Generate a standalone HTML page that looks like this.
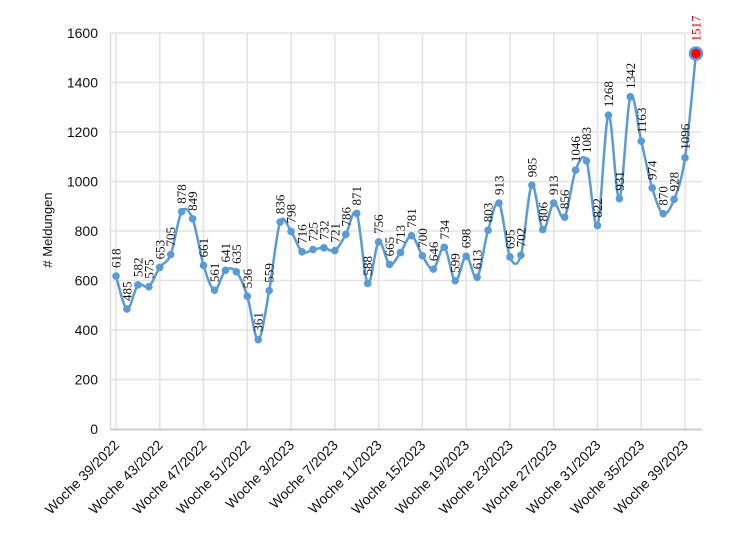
<!DOCTYPE html>
<html><head><meta charset="utf-8"><style>
html,body{margin:0;padding:0;background:#fff;}
svg{display:block;}
.yl{font:14px "Liberation Sans",sans-serif;fill:#111;text-anchor:end;}
.xl{font:14px "Liberation Sans",sans-serif;fill:#111;text-anchor:end;}
.dl{font:13px "Liberation Serif",serif;fill:#111;}
</style></head><body>
<svg id="s" width="750" height="533" viewBox="0 0 750 533" xmlns="http://www.w3.org/2000/svg">
<g id="grid" stroke="#e3e3e3" stroke-width="1.5"></g>
<line x1="110" y1="429.5" x2="702" y2="429.5" stroke="#ccc" stroke-width="2"/>
<line x1="110.5" y1="33" x2="110.5" y2="430" stroke="#ddd" stroke-width="1.5"/>
<g id="yl"></g>
<text transform="rotate(-90 52 230)" x="52" y="230" text-anchor="middle" style="font:13px 'Liberation Sans',sans-serif;fill:#111">#  Meldungen</text>
<path id="line" fill="none" stroke="#5b9bd5" stroke-width="2.5" d=""/>
<g id="pts" fill="#5b9bd5"></g>
<g id="xls"></g>
<g id="dls"></g>
</svg>
<script>
var v=[618,485,582,575,653,705,878,849,661,561,641,635,536,361,559,836,798,716,725,732,721,786,871,588,756,665,713,781,700,646,734,599,698,613,803,913,695,702,985,806,913,856,1046,1083,822,1268,931,1342,1163,974,870,928,1096,1517];
var wk=["Woche 39/2022","Woche 43/2022","Woche 47/2022","Woche 51/2022","Woche 3/2023","Woche 7/2023","Woche 11/2023","Woche 15/2023","Woche 19/2023","Woche 23/2023","Woche 27/2023","Woche 31/2023","Woche 35/2023","Woche 39/2023"];
var NS="http://www.w3.org/2000/svg";
function X(i){return 116+i*10.943;}
function Y(val){return 429-val*0.2475;}
function el(t,a,p,txt){var e=document.createElementNS(NS,t);for(var k in a)e.setAttribute(k,a[k]);if(txt!==undefined)e.textContent=txt;document.getElementById(p).appendChild(e);return e;}
for(var g=0;g<=1600;g+=200){var y=Y(g);if(g>0)el("line",{x1:110,x2:702,y1:y,y2:y},"grid");el("text",{x:98,y:y+5,"class":"yl"},"yl",String(g));}
for(var j=0;j<wk.length;j++){var x=X(j*4);el("line",{x1:x,x2:x,y1:33,y2:429},"grid");el("text",{x:x+4,y:446,"class":"xl",transform:"rotate(-45 "+(x+4)+" 446)"},"xls",wk[j]);}
var P=v.map(function(a,i){return [X(i),Y(a)];});
var d="M"+P[0][0]+","+P[0][1];
for(var i=0;i<P.length-1;i++){var p0=P[Math.max(0,i-1)],p1=P[i],p2=P[i+1],p3=P[Math.min(P.length-1,i+2)];var t=6;
d+=" C"+(p1[0]+(p2[0]-p0[0])/t)+","+(p1[1]+(p2[1]-p0[1])/t)+" "+(p2[0]-(p3[0]-p1[0])/t)+","+(p2[1]-(p3[1]-p1[1])/t)+" "+p2[0]+","+p2[1];}
document.getElementById("line").setAttribute("d",d);
for(var i=0;i<P.length;i++){
 var last=i==P.length-1;
 if(last)el("circle",{cx:P[i][0],cy:P[i][1],r:6,fill:"#ff0000",stroke:"#5b9bd5","stroke-width":2.5},"pts");
 else el("circle",{cx:P[i][0],cy:P[i][1],r:3.8},"pts");
 var lx=P[i][0]+4.5,ly=P[i][1]-(last?12:8);
 var tx=el("text",{x:lx,y:ly,"class":"dl",transform:"rotate(-90 "+lx+" "+ly+")"},"dls",String(v[i]));
 if(last)tx.setAttribute("style","fill:#e00000");
}
</script>
</body></html>
